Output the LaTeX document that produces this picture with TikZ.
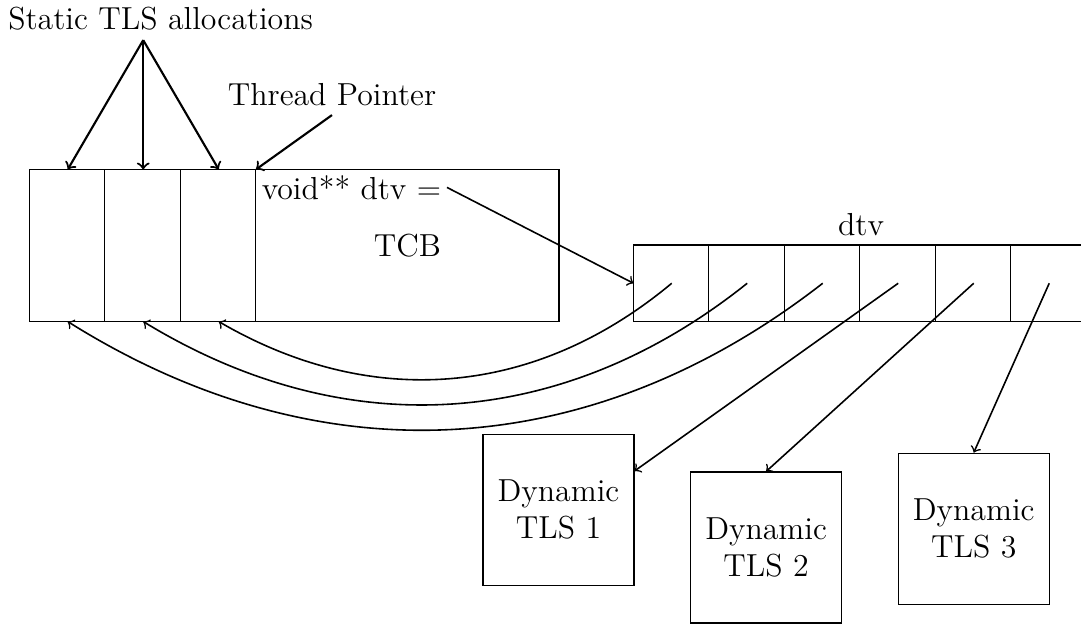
\documentclass[tikz,border=0pt]{standalone}
\usetikzlibrary{shapes}
\tikzstyle{cell} = [rectangle, minimum width=1cm, minimum height=2cm, inner sep=0pt]
\tikzstyle{slot} = [rectangle, minimum width=1cm, minimum height=1cm, inner sep=0pt]
\tikzstyle{tls} = [rectangle, draw, minimum width=2cm, minimum height=2cm, align=center]
\tikzstyle{line} = [draw, semithick, ->]
\tikzstyle{bigline} = [draw, thick, ->]

\begin{document}
\begin{tikzpicture}[node distance = 1cm, every node/.style={font=\large}]
  \useasboundingbox (-0.397,-4) rectangle (13.921,4.252);
  \clip (-0.397,-4) rectangle (13.921,4.252);
  \node [cell] (s1) at (0.5,1) {};
  \node [cell, right of=s1] (s2) {};
  \node [cell, right of=s2] (s3) {};
  \node [cell, right of=s3, node distance=2.5cm, minimum width=4cm] (tcb) {TCB};
  \node [anchor=north west, inner sep=2pt] (dtvptr) at (tcb.north west) {void** dtv =};
  \node [slot] (d1) at (8.5,0.5) {};
  \node [slot, right of=d1] (d2) {};
  \node [slot, right of=d2] (d3) {};
  \node [slot, right of=d3] (d4) {};
  \node [slot, right of=d4] (d5) {};
  \node [slot, right of=d5] (d6) {};
  % outlines drawn once so shared edges stay thin
  \draw (s1.north west) rectangle (tcb.south east);
  \foreach \c in {s2, s3, tcb}
    \draw (\c.north west) -- (\c.south west);
  \draw (d1.north west) rectangle (d6.south east);
  \foreach \c in {d2, d3, d4, d5, d6}
    \draw (\c.north west) -- (\c.south west);
  \node [anchor=south] (dtvname) at (d3.north east) {dtv};
  \node (stls) at (1.73,4.01) {Static TLS allocations};
  \coordinate (sfan) at (1.5,3.72);
  \path [bigline] (sfan) -- (s1.north);
  \path [bigline] (sfan) -- (s2.north);
  \path [bigline] (sfan) -- (s3.north);
  \node (tp) at (4,3) {Thread Pointer};
  \path [bigline] (tp.south) -- (tcb.north west);
  \path [line] (dtvptr.east) -- (d1.west);
  \path [line] (d1.center) to [bend left=35] (s3.south);
  \path [line] (d2.center) to [bend left=35] (s2.south);
  \path [line] (d3.center) to [bend left=35] (s1.south);
  \node [tls] (b1) at (7,-2.5) {Dynamic\\TLS 1};
  \node [tls, right of=b1, node distance=2.75cm, yshift=-5mm] (b2) {Dynamic\\TLS 2};
  \node [tls, right of=b2, node distance=2.75cm, yshift=2.5mm] (b3) {Dynamic\\TLS 3};
  \path [line] (d4.center) -- (b1.27);
  \path [line] (d5.center) -- (b2.north);
  \path [line] (d6.center) -- (b3.north);
\end{tikzpicture}
\end{document}
